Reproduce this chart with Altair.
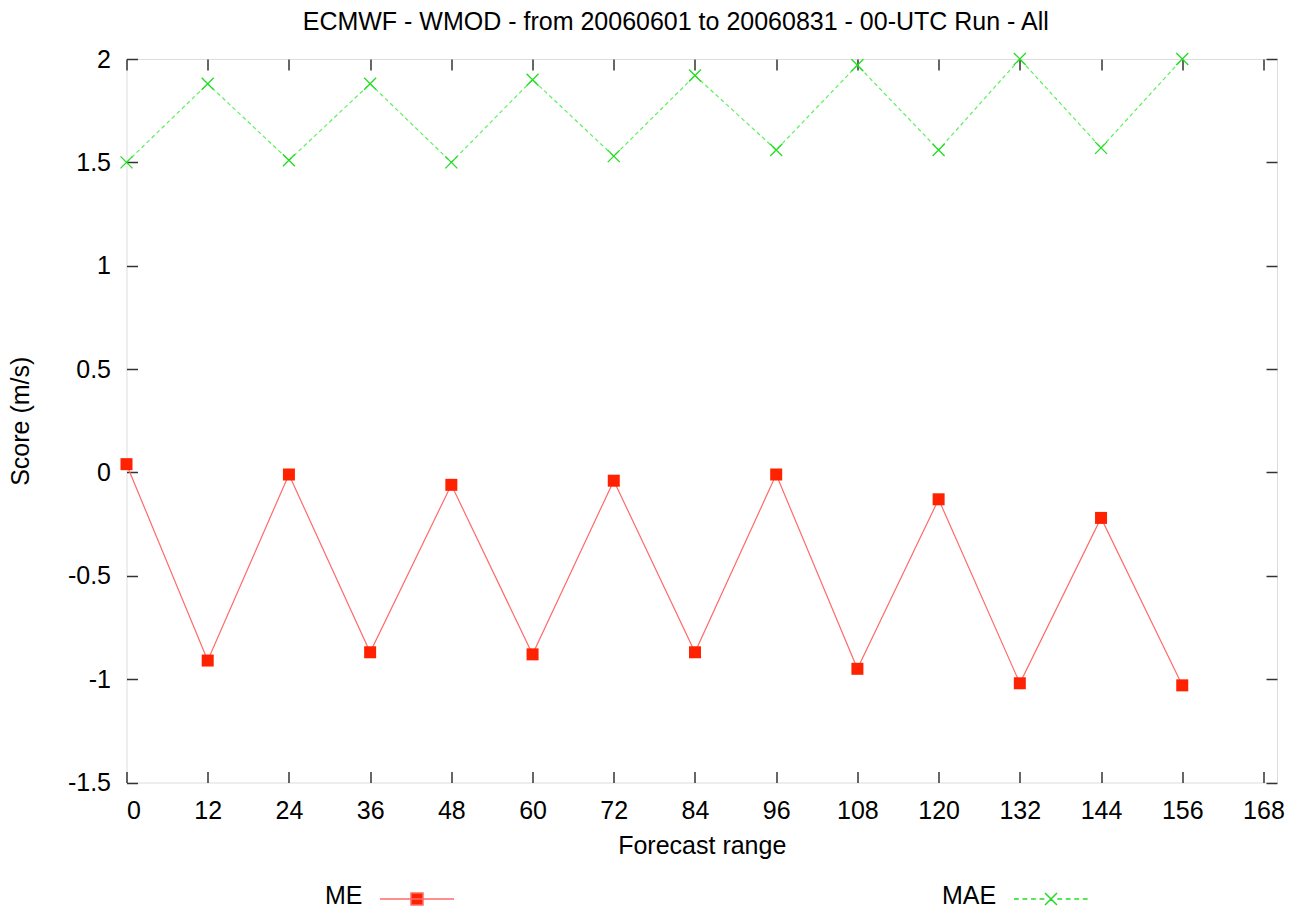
import altair as alt
import pandas as pd

# Forecast steps (hours) and verification scores (m/s)
steps = [0, 12, 24, 36, 48, 60, 72, 84, 96, 108, 120, 132, 144, 156]
me_scores = [0.04, -0.91, -0.01, -0.87, -0.06, -0.88, -0.04, -0.87, -0.01, -0.95, -0.13, -1.02, -0.22, -1.03]
mae_scores = [1.50, 1.88, 1.51, 1.88, 1.50, 1.90, 1.53, 1.92, 1.56, 1.97, 1.56, 2.00, 1.57, 2.00]

x_ticks = [0, 12, 24, 36, 48, 60, 72, 84, 96, 108, 120, 132, 144, 156, 168]
y_ticks = [-1.5, -1, -0.5, 0, 0.5, 1, 1.5, 2]

FONT = "Liberation Sans"
FS = 25

me_df = pd.DataFrame({"step": steps, "score": me_scores, "series": "ME"})
mae_df = pd.DataFrame({"step": steps, "score": mae_scores, "series": "MAE"})

x_scale = alt.Scale(domain=[0, 170], nice=False, zero=False)
y_scale = alt.Scale(domain=[-1.5, 2], nice=False, zero=False)

# ticks point into the plot: each axis is pulled inside by its tick length
TICK = 11
common_axis = dict(domain=False, grid=False, tickSize=TICK, offset=-TICK,
                   tickColor="#333333", tickWidth=1.5,
                   labelFont=FONT, labelFontSize=FS, labelColor="#000000",
                   titleFont=FONT, titleFontSize=FS, titleFontWeight="normal",
                   titleColor="#000000")

axis_bottom = alt.Axis(orient="bottom", values=x_ticks, labelPadding=16,
                       labelExpr="'' + datum.value", title="Forecast range",
                       titlePadding=10, **common_axis)
axis_left = alt.Axis(orient="left", values=y_ticks, labelPadding=16,
                     labelExpr="'' + datum.value", title="Score (m/s)",
                     titlePadding=34, **common_axis)
axis_top = alt.Axis(orient="top", values=x_ticks, labels=False, title="", **common_axis)
axis_right = alt.Axis(orient="right", values=y_ticks, labels=False, title="", **common_axis)

ME_LINE = "#ff6a6a"
ME_MARK = "#ff2200"
MAE_LINE = "#5cf05c"
MAE_MARK = "#22dd22"

X_PATH = "M-1,-1L1,1M-1,1L1,-1"

# legend glyphs: a line sample with the marker in the middle
KEY_W = 74
s = 6.0 / (KEY_W / 2)
me_key = f"M-1,0H1M-{s:.3f},-{s:.3f}H{s:.3f}V{s:.3f}H-{s:.3f}Z"
dash, gap = 0.13, 0.10
segs = []
pos = -1.0
while pos < -0.17:
    segs.append(f"M{pos:.3f},0H{min(pos + dash, -0.17):.3f}")
    pos += dash + gap
pos = 0.17
while pos < 1.0:
    segs.append(f"M{pos:.3f},0H{min(pos + dash, 1.0):.3f}")
    pos += dash + gap
mae_key = "".join(segs) + f"M-{s:.3f},-{s:.3f}L{s:.3f},{s:.3f}M-{s:.3f},{s:.3f}L{s:.3f},-{s:.3f}"

# series name is drawn as the legend title, to the left of the key
legend_common = dict(orient="none", padding=0, symbolSize=KEY_W * KEY_W,
                     titleOrient="left", titleFont=FONT, titleFontSize=FS,
                     titleFontWeight="normal", titleColor="#000000",
                     titleBaseline="top", titleAnchor="middle", titlePadding=16,
                     labelExpr="''", labelFontSize=1, labelOffset=0)

me_line = alt.Chart(me_df).mark_line(color=ME_LINE, strokeWidth=1.2).encode(
    x=alt.X("step:Q", scale=x_scale, axis=axis_bottom),
    y=alt.Y("score:Q", scale=y_scale, axis=axis_left),
)
mae_line = alt.Chart(mae_df).mark_line(color=MAE_LINE, strokeWidth=1.2, strokeDash=[4, 3]).encode(
    x=alt.X("step:Q", scale=x_scale, axis=axis_top),
    y=alt.Y("score:Q", scale=y_scale, axis=axis_right),
)
me_pts = alt.Chart(me_df).mark_square(size=144, opacity=1).encode(
    x=alt.X("step:Q", scale=x_scale, axis=None),
    y=alt.Y("score:Q", scale=y_scale, axis=None),
    color=alt.Color("series:N", scale=alt.Scale(domain=["ME"], range=[ME_MARK]),
                    legend=alt.Legend(title="ME", symbolType=me_key, symbolFillColor=ME_MARK,
                                      symbolStrokeColor=ME_LINE, symbolStrokeWidth=1.5,
                                      legendX=198.5, legendY=802, **legend_common)),
)
mae_pts = alt.Chart(mae_df).mark_point(shape=X_PATH, size=144, filled=False, strokeWidth=1.3, opacity=1).encode(
    x=alt.X("step:Q", scale=x_scale, axis=None),
    y=alt.Y("score:Q", scale=y_scale, axis=None),
    color=alt.Color("series:N", scale=alt.Scale(domain=["MAE"], range=[MAE_MARK]),
                    legend=alt.Legend(title="MAE", symbolType=mae_key, symbolFillColor="transparent",
                                      symbolStrokeColor=MAE_LINE, symbolStrokeWidth=1.5,
                                      legendX=815.5, legendY=802, **legend_common)),
)

chart = (
    alt.layer(me_line, mae_line, me_pts, mae_pts)
    .resolve_scale(color="independent")
    .resolve_axis(x="independent", y="independent")
    .properties(
        width=1150.5,
        height=723.5,
        autosize=alt.AutoSizeParams(type="none"),
        padding={"left": 126.5, "top": 59, "right": 27, "bottom": 134.5},
        title=alt.Title("ECMWF - WMOD - from 20060601 to 20060831 - 00-UTC Run - All",
                        font=FONT, fontSize=FS, fontWeight="normal", color="#000000",
                        anchor="middle", frame="group", baseline="alphabetic",
                        dx=-26, dy=8, offset=0),
    )
    .configure_view(stroke="#222222", strokeWidth=2)
    .configure(background="white")
)

chart.save("out.html", embed_options={"renderer": "svg", "actions": False})
